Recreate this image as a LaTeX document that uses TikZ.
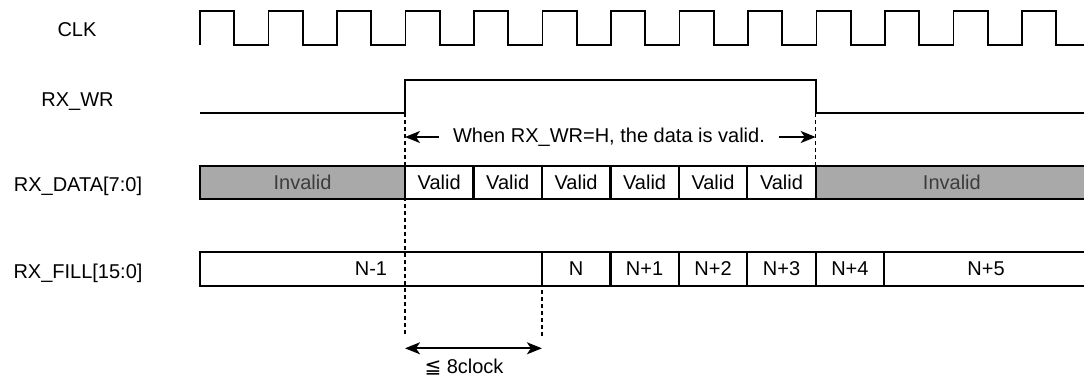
\documentclass[tikz,border=0pt]{standalone}
\usepackage{fontspec}
\setmainfont{Liberation Sans}
\newfontfamily\symbolfont{DejaVu Sans}
\usetikzlibrary{arrows.meta}
\definecolor{invalidgray}{HTML}{A9A9A9}
\definecolor{invalidtext}{HTML}{3C3C3C}

\begin{document}
\begin{tikzpicture}[x=1pt,y=-1pt,font=\fontsize{20}{24}\selectfont,>={Stealth[length=15pt,width=12pt,inset=4pt]}]
\useasboundingbox (0,0) rectangle (1084,381);
%%%%%%%%%%%%%%%%%%%%%%%%%%%%%%%%%%%%%%%%%%%%%%%%%%%%%%%%%%%%%%
%STYLES
\tikzstyle{wave}=[line width=1.8pt]
\tikzstyle{cell}=[draw,line width=2.3pt,fill=white,inner sep=0pt]
\tikzstyle{invalidcell}=[cell,fill=invalidgray,text=invalidtext]
\tikzstyle{marker}=[line width=1.5pt,dash pattern=on 4pt off 3pt]

%%%%%%%%%%%%%%%%%%%%%%%%%%%%%%%%%%%%%%%%%%%%%%%%%%%%%%%%%%%%%%
%SIGNAL NAMES
\node[anchor=base] (nameclk) at (77,36) {CLK};
\node[anchor=base] (namewr) at (77.5,106) {RX\_WR};
\node[anchor=base] (namedata) at (78,191.7) {RX\_DATA[7:0]};
\node[anchor=base] (namefill) at (78,278.3) {RX\_FILL[15:0]};

%%%%%%%%%%%%%%%%%%%%%%%%%%%%%%%%%%%%%%%%%%%%%%%%%%%%%%%%%%%%%%
%CLK
\coordinate (clkStart) at (200,45);
\draw[wave] (clkStart) -- ++(0,-34) -- ++(34.25,0) -- ++(0,34) -- ++(34.25,0)
  -- ++(0,-34) -- ++(34.25,0) -- ++(0,34) -- ++(34.25,0)
  -- ++(0,-34) -- ++(34.25,0) -- ++(0,34) -- ++(34.25,0)
  -- ++(0,-34) -- ++(34.25,0) -- ++(0,34) -- ++(34.25,0)
  -- ++(0,-34) -- ++(34.25,0) -- ++(0,34) -- ++(34.25,0)
  -- ++(0,-34) -- ++(34.25,0) -- ++(0,34) -- ++(34.25,0)
  -- ++(0,-34) -- ++(34.25,0) -- ++(0,34) -- ++(34.25,0)
  -- ++(0,-34) -- ++(34.25,0) -- ++(0,34) -- ++(34.25,0)
  -- ++(0,-34) -- ++(34.25,0) -- ++(0,34) -- ++(34.25,0)
  -- ++(0,-34) -- ++(34.25,0) -- ++(0,34) -- ++(34.25,0)
  -- ++(0,-34) -- ++(34.25,0) -- ++(0,34) -- ++(34.25,0)
  -- ++(0,-34) -- ++(34.25,0) -- ++(0,34) -- ++(34.25,0)
  -- ++(0,-34) -- ++(34.25,0) -- ++(0,34) -- ++(34.25,0);

%RX_WR
\coordinate (wrStart) at (200,113.3);
\coordinate (wrRise) at (405,113.3);
\coordinate (wrHighL) at (405,80);
\coordinate (wrHighR) at (815.7,80);
\coordinate (wrFall) at (815.7,113.3);
\coordinate (wrEnd) at (1090,113.3);
\draw[wave] (wrStart) -- (wrRise) -- (wrHighL) -- (wrHighR) -- (wrFall) -- (wrEnd);

%%%%%%%%%%%%%%%%%%%%%%%%%%%%%%%%%%%%%%%%%%%%%%%%%%%%%%%%%%%%%%
%RX_DATA
\node[invalidcell,minimum width=205pt,minimum height=33.3pt] (data0) at (302.5,182.35) {Invalid};
\node[cell,minimum width=68.45pt,minimum height=33.3pt] (data1) at (439.2,182.35) {Valid};
\node[cell,minimum width=68.45pt,minimum height=33.3pt] (data2) at (507.7,182.35) {Valid};
\node[cell,minimum width=68.45pt,minimum height=33.3pt] (data3) at (576.1,182.35) {Valid};
\node[cell,minimum width=68.45pt,minimum height=33.3pt] (data4) at (644.6,182.35) {Valid};
\node[cell,minimum width=68.45pt,minimum height=33.3pt] (data5) at (713.0,182.35) {Valid};
\node[cell,minimum width=68.45pt,minimum height=33.3pt] (data6) at (781.5,182.35) {Valid};
\node[invalidcell,minimum width=272.3pt,minimum height=33.3pt] (data7) at (951.85,182.35) {Invalid};

%RX_FILL
\node[cell,minimum width=341.9pt,minimum height=34pt] (fill0) at (370.95,268.7) {N-1};
\node[cell,minimum width=68.45pt,minimum height=34pt] (fill1) at (576.1,268.7) {N};
\node[cell,minimum width=68.45pt,minimum height=34pt] (fill2) at (644.6,268.7) {N+1};
\node[cell,minimum width=68.45pt,minimum height=34pt] (fill3) at (713.0,268.7) {N+2};
\node[cell,minimum width=68.45pt,minimum height=34pt] (fill4) at (781.5,268.7) {N+3};
\node[cell,minimum width=68.45pt,minimum height=34pt] (fill5) at (849.9,268.7) {N+4};
\node[cell,minimum width=203.9pt,minimum height=34pt] (fill6) at (986.05,268.7) {N+5};

%%%%%%%%%%%%%%%%%%%%%%%%%%%%%%%%%%%%%%%%%%%%%%%%%%%%%%%%%%%%%%
%MARKERS
\coordinate (dashAEnd) at (405,337);
\coordinate (dashBEnd) at (815.7,165.7);
\coordinate (dashCTop) at (541.9,290);
\coordinate (dashCEnd) at (541.9,337);
\draw[marker] (wrRise) -- (dashAEnd);
\draw[marker] (wrFall) -- (dashBEnd);
\draw[marker] (dashCTop) -- (dashCEnd);

%valid window
\node[inner xsep=14pt,inner ysep=0pt] (note) at (609,137) {When RX\_WR=H, the data is valid.};
\coordinate (validL) at (405,137);
\coordinate (validR) at (815.7,137);
\draw[->,wave] (note.west) -- (validL);
\draw[->,wave] (note.east) -- (validR);

%fill delay
\coordinate (spanL) at (405,348.3);
\coordinate (spanR) at (541.9,348.3);
\draw[<->,wave] (spanL) -- (spanR);
\node[anchor=base] (delay) at (464,373.3) {{\symbolfont ≦} 8clock};
\end{tikzpicture}
\end{document}
